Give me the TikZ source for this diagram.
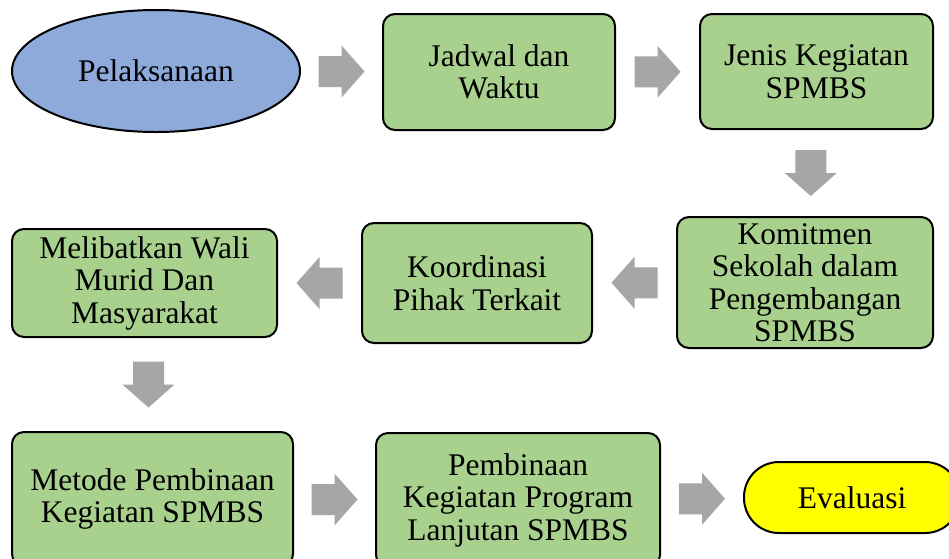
\documentclass[tikz,border=0pt]{standalone}
\usepackage{fontspec}
\setmainfont{Liberation Serif}
\usetikzlibrary{calc,shapes.geometric}
\definecolor{ellblue}{HTML}{8EAADB}
\definecolor{boxgreen}{HTML}{A9D18E}
\definecolor{arrgray}{HTML}{A6A6A6}
\definecolor{evyellow}{HTML}{FFFF00}
\tikzset{
  every node/.style={font=\fontsize{31.5}{32.5}\selectfont, align=center, inner sep=0pt},
  gbox/.style={draw=black, line width=2pt, fill=boxgreen, rounded corners=12pt},
  blockarr/.pic={\fill[arrgray] (-23,-15.5) -- (0,-15.5) -- (0,-26) -- (23,0) -- (0,26) -- (0,15.5) -- (-23,15.5) -- cycle;}
}
\begin{document}
\begin{tikzpicture}[x=1pt,y=-1pt]
\useasboundingbox (0,0) rectangle (949,558);
\clip (0,0) rectangle (949,558);
\fill[white] (0,0) rectangle (949,558);
% nodes
\node[ellipse, draw=black, line width=2pt, fill=ellblue, minimum width=288pt, minimum height=122pt] (pel) at (156,71) {Pelaksanaan};
\node[gbox, minimum width=232pt, minimum height=116pt] (jad) at (499,72) {Jadwal dan\\Waktu};
\node[gbox, minimum width=233pt, minimum height=115pt] (jen) at (816.5,71.5) {Jenis Kegiatan\\SPMBS};
\node[gbox, minimum width=256pt, minimum height=131pt] (kom) at (805,282.5) {Komitmen\\Sekolah dalam\\Pengembangan\\SPMBS};
\node[gbox, minimum width=230pt, minimum height=120pt] (koo) at (477,283) {Koordinasi\\Pihak Terkait};
\node[gbox, minimum width=265pt, minimum height=108pt] (mel) at (144.5,283) {Melibatkan Wali\\Murid Dan\\Masyarakat};
\node[gbox, minimum width=281pt, minimum height=134pt] (met) at (152.5,499) {Metode Pembinaan\\Kegiatan SPMBS};
\node[gbox, minimum width=284pt, minimum height=134pt] (pem) at (518,500) {Pembinaan\\Kegiatan Program\\Lanjutan SPMBS};
\node[draw=black, line width=2pt, fill=evyellow, rounded corners=35pt, minimum width=216pt, minimum height=71pt] (eva) at (852,497.5) {Evaluasi};
% block arrows
\pic at ($(pel.east)!0.5!(jad.west)$) {blockarr};
\pic at ($(jad.east)!0.5!(jen.west)$) {blockarr};
\pic[rotate=-90] at ($(jen.south)!0.5!(kom.north)$) {blockarr};
\pic[rotate=180] at ($(kom.west)!0.5!(koo.east)$) {blockarr};
\pic[rotate=180] at ($(koo.west)!0.5!(mel.east)$) {blockarr};
\pic[rotate=-90] at ($(mel.south)!0.5!(met.north)$) {blockarr};
\pic at ($(met.east)!0.5!(pem.west)$) {blockarr};
\pic at ($(pem.east)!0.5!(eva.west)$) {blockarr};
\end{tikzpicture}
\end{document}
